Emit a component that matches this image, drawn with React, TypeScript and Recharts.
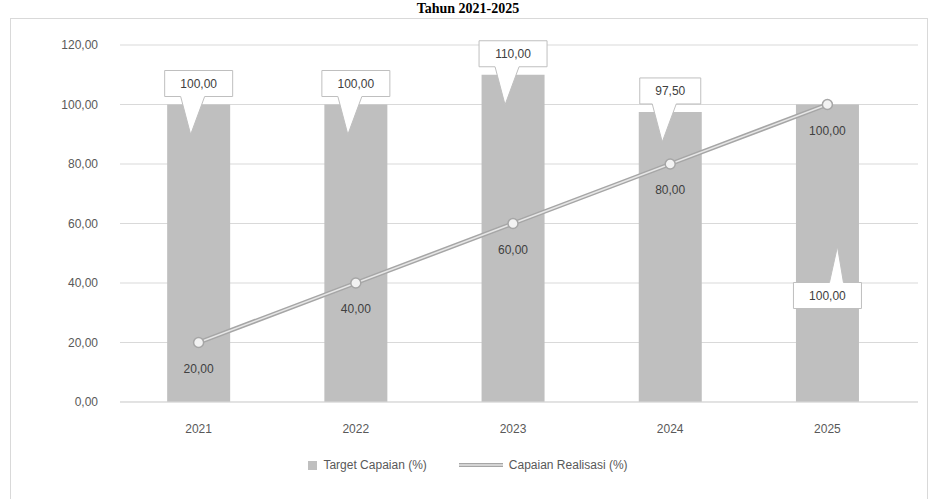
import React from 'react';
import { ComposedChart, Bar, Line, XAxis, YAxis, CartesianGrid, LabelList } from 'recharts';

const years = ['2021', '2022', '2023', '2024', '2025'];
const targetValues = [100, 100, 110, 97.5, 100];
const realisasiValues = [20, 40, 60, 80, 100];
const yTicks = [0, 20, 40, 60, 80, 100, 120];

const TITLE = 'Tahun 2021-2025';
const TARGET_NAME = 'Target Capaian (%)';
const REAL_NAME = 'Capaian Realisasi (%)';

const data = years.map((year, i) => ({
  year,
  target: targetValues[i],
  realisasi: realisasiValues[i],
}));

const FONT = '"Liberation Sans", Arial, sans-serif';
const fmt = (v: number) => v.toFixed(2).replace('.', ',');

function BarCallout(props: any) {
  const { x, y, width, value, index } = props;
  const text = fmt(Number(value));
  const cx = x + width / 2;
  const w = text.length * 7 + 26;
  const h = 26;
  const L = cx - w / 2;
  const R = cx + w / 2;
  // last bar puts its callout low inside the bar, pointing up
  if (index === data.length - 1) {
    const T = y + 178;
    const B = T + h;
    const d = `M${L},${T} H${cx + 2} L${cx + 10},${T - 36} L${cx + 16},${T} H${R} V${B} H${L} Z`;
    return (
      <g>
        <path d={d} fill="#fff" stroke="#bfbfbf" strokeWidth={1} />
        <text x={cx} y={T + h / 2 + 4} textAnchor="middle" fontSize={12} fill="#404040" fontFamily={FONT}>
          {text}
        </text>
      </g>
    );
  }
  const B = y - 8;
  const T = B - h;
  const d = `M${L},${T} H${R} V${B} H${cx + 6} L${cx - 8},${y + 30} L${cx - 18},${B} H${L} Z`;
  return (
    <g>
      <path d={d} fill="#fff" stroke="#bfbfbf" strokeWidth={1} />
      <text x={cx} y={T + h / 2 + 4} textAnchor="middle" fontSize={12} fill="#404040" fontFamily={FONT}>
        {text}
      </text>
    </g>
  );
}

function LineLabel(props: any) {
  const { x, y, value } = props;
  return (
    <text x={x} y={y + 30} textAnchor="middle" fontSize={12} fill="#404040" fontFamily={FONT}>
      {fmt(Number(value))}
    </text>
  );
}

function LegendBox() {
  return (
    <div
      style={{
        position: 'absolute', left: 0, top: 458, width: 936,
        display: 'flex', justifyContent: 'center', alignItems: 'center',
        fontFamily: FONT, fontSize: 12, color: '#595959',
      }}
    >
      <span style={{ display: 'inline-block', width: 9, height: 9, background: '#bfbfbf', marginRight: 6 }} />
      <span style={{ marginRight: 32 }}>{TARGET_NAME}</span>
      <svg width={44} height={10} style={{ marginRight: 6 }}>
        <line x1={0} y1={5} x2={44} y2={5} stroke="#a6a6a6" strokeWidth={4} />
        <line x1={0} y1={5} x2={44} y2={5} stroke="#e3e3e3" strokeWidth={1.5} />
      </svg>
      <span>{REAL_NAME}</span>
    </div>
  );
}

export default function App() {
  return (
    <div style={{ position: 'absolute', left: 0, top: 0, width: 936, height: 499, overflow: 'hidden', background: '#fff' }}>
      <div
        style={{
          position: 'absolute', left: 10, top: 18, width: 918, height: 490,
          border: '1px solid #d9d9d9', boxSizing: 'border-box',
        }}
      />
      <div
        style={{
          position: 'absolute', top: 1, left: 0, width: 936, textAlign: 'center', lineHeight: '15px',
          fontFamily: '"Liberation Serif", serif', fontWeight: 'bold', fontSize: 14, color: '#000',
        }}
      >
        {TITLE}
      </div>
      <div style={{ position: 'absolute', left: 0, top: 0 }}>
        <ComposedChart width={936} height={499} data={data} margin={{ top: 45, right: 18, left: 20, bottom: 67 }} barCategoryGap="30%">
          <CartesianGrid vertical={false} stroke="#d9d9d9" />
          <XAxis
            dataKey="year"
            padding={{ left: 0, right: 12 }}
            axisLine={{ stroke: '#d9d9d9' }}
            tickLine={false}
            tickSize={0}
            tickMargin={22}
            tick={{ fontSize: 12, fill: '#595959', fontFamily: FONT }}
          />
          <YAxis
            width={100}
            domain={[0, 120]}
            ticks={yTicks}
            axisLine={false}
            tickLine={false}
            tickSize={0}
            tickMargin={22}
            tickFormatter={fmt}
            tick={{ fontSize: 12, fill: '#595959', fontFamily: FONT }}
          />
          <Bar dataKey="target" name={TARGET_NAME} fill="#bfbfbf" isAnimationActive={false}>
            <LabelList dataKey="target" content={<BarCallout />} />
          </Bar>
          <Line
            dataKey="realisasi"
            name={REAL_NAME}
            stroke="#a6a6a6"
            strokeWidth={4.5}
            dot={{ r: 5, fill: '#f2f2f2', stroke: '#a6a6a6', strokeWidth: 1.5 }}
            isAnimationActive={false}
          >
            <LabelList dataKey="realisasi" content={<LineLabel />} />
          </Line>
          <Line
            dataKey="realisasi"
            stroke="#e6e6e6"
            strokeWidth={1.5}
            dot={false}
            activeDot={false}
            isAnimationActive={false}
          />
        </ComposedChart>
      </div>
      <LegendBox />
    </div>
  );
}
